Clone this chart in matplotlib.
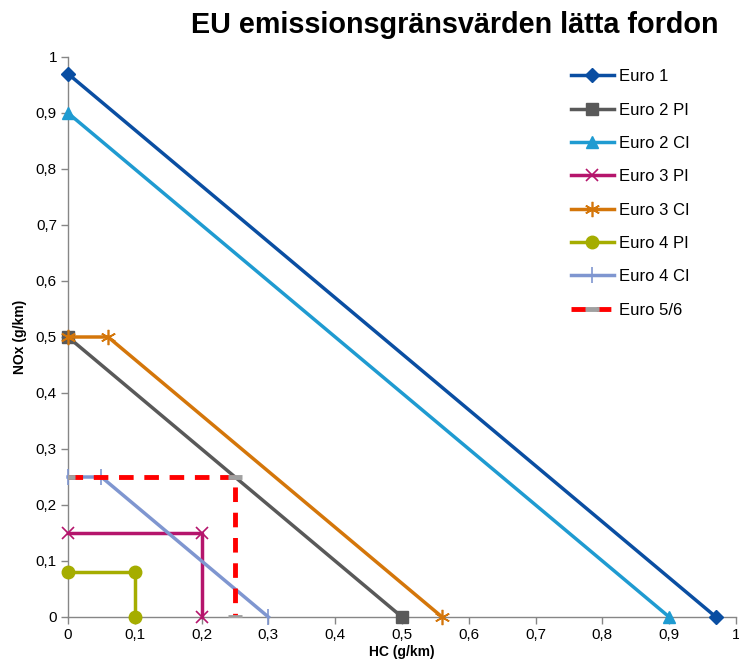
import matplotlib
matplotlib.use("Agg")
import matplotlib.pyplot as plt
from matplotlib.ticker import FuncFormatter

plt.rcParams['font.family'] = ['Liberation Sans', 'DejaVu Sans']

# data (HC, NOx in g/km)
names = ["Euro 1", "Euro 2 PI", "Euro 2 CI", "Euro 3 PI", "Euro 3 CI",
         "Euro 4 PI", "Euro 4 CI", "Euro 5/6"]
hc = [
    [0, 0.97],
    [0, 0.5],
    [0, 0.9],
    [0, 0.2, 0.2],
    [0, 0.06, 0.56],
    [0, 0.1, 0.1],
    [0, 0.05, 0.3],
    [0, 0.25, 0.25],
]
nox = [
    [0.97, 0],
    [0.5, 0],
    [0.9, 0],
    [0.15, 0.15, 0],
    [0.5, 0.5, 0],
    [0.08, 0.08, 0],
    [0.25, 0.25, 0],
    [0.25, 0.25, 0],
]

colors = ["#0a4ea2", "#595959", "#1f9bd1", "#b5156c", "#d4760a",
          "#a5ad00", "#7f96d0", "#ff0000"]
markers = ["D", "s", "^", "x", (6, 2, 0), "o", "|", "_"]
msizes = [7, 9, 9, 9, 11, 9, 11, 10]

fig = plt.figure(figsize=(7.39, 6.7), dpi=100)
ax = fig.add_axes([68 / 739, 53 / 670, 668 / 739, 560 / 670])

for i in range(len(names)):
    if names[i] == "Euro 5/6":
        ax.plot(hc[i], nox[i], color=colors[i], lw=3.5, ls=(0, (3, 2.2)),
                marker="_", ms=10, mew=3.5, mec="#a0a0a0", label=names[i],
                zorder=4)
    else:
        ax.plot(hc[i], nox[i], color=colors[i], lw=2.5, marker=markers[i],
                ms=msizes[i], mew=1.2 if markers[i] in ("x", "|") or i == 4 else 1,
                mec=colors[i], label=names[i], clip_on=False, zorder=3)

ax.set_xlim(0, 1)
ax.set_ylim(0, 1)
ticks = [i / 10 for i in range(11)]
ax.set_xticks(ticks)
ax.set_yticks(ticks)
fmt = FuncFormatter(lambda v, p: ("%g" % round(v, 1)).replace(".", ","))
ax.xaxis.set_major_formatter(fmt)
ax.yaxis.set_major_formatter(fmt)
ax.tick_params(labelsize=11, color="#868686", length=5, width=1, pad=3)
for s in ["top", "right"]:
    ax.spines[s].set_visible(False)
for s in ["left", "bottom"]:
    ax.spines[s].set_color("#868686")
    ax.spines[s].set_linewidth(1)

ax.set_xlabel("HC (g/km)", fontsize=10, fontweight="bold", labelpad=2)
ax.set_ylabel("NOx (g/km)", fontsize=10, fontweight="bold", labelpad=6)

fig.text(0.972, 0.962, "EU emissionsgränsvärden lätta fordon", ha="right",
         va="center", fontsize=20.7, fontweight="bold")

ax.legend(loc="upper left", bbox_to_anchor=(0.73, 1.005), frameon=False,
          fontsize=12, handlelength=2.6, labelspacing=1.1, handletextpad=0.3)

fig.savefig("out.png", dpi=100)
